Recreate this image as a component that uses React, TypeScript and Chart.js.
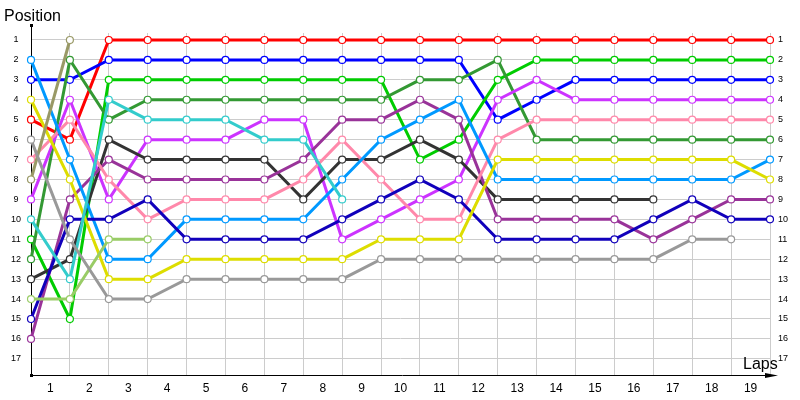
import { useEffect, useRef } from 'react'
import { Chart, registerables } from 'chart.js'

Chart.register(...registerables)

// lap index 0 = start grid, 19 = last lap
const LAPS = [0, 1, 2, 3, 4, 5, 6, 7, 8, 9, 10, 11, 12, 13, 14, 15, 16, 17, 18, 19]
const LAP_LABELS = ['1', '2', '3', '4', '5', '6', '7', '8', '9', '10', '11', '12', '13', '14', '15', '16', '17', '18', '19', '']
const POSITIONS = [1, 2, 3, 4, 5, 6, 7, 8, 9, 10, 11, 12, 13, 14, 15, 16, 17]

const red = [5, 6, 1, 1, 1, 1, 1, 1, 1, 1, 1, 1, 1, 1, 1, 1, 1, 1, 1, 1]
const blue = [3, 3, 2, 2, 2, 2, 2, 2, 2, 2, 2, 2, 5, 4, 3, 3, 3, 3, 3, 3]
const green = [11, 15, 3, 3, 3, 3, 3, 3, 3, 3, 7, 6, 3, 2, 2, 2, 2, 2, 2, 2]
const darkGreen = [12, 2, 5, 4, 4, 4, 4, 4, 4, 4, 3, 3, 2, 6, 6, 6, 6, 6, 6, 6]
const teal = [10, 13, 4, 5, 5, 5, 6, 6, 9, null, null, null, null, null, null, null, null, null, null, null]
const violet = [9, 4, 9, 6, 6, 6, 5, 5, 11, 10, 9, 8, 4, 3, 4, 4, 4, 4, 4, 4]
const black = [13, 12, 6, 7, 7, 7, 7, 9, 7, 7, 6, 7, 9, 9, 9, 9, 9, null, null, null]
const purple = [16, 9, 7, 8, 8, 8, 8, 7, 5, 5, 4, 5, 10, 10, 10, 10, 11, 10, 9, 9]
const pink = [7, 5, 8, 10, 9, 9, 9, 8, 6, 8, 10, 10, 6, 5, 5, 5, 5, 5, 5, 5]
const skyBlue = [2, 7, 12, 12, 10, 10, 10, 10, 8, 6, 5, 4, 8, 8, 8, 8, 8, 8, 8, 7]
const navy = [15, 10, 10, 9, 11, 11, 11, 11, 10, 9, 8, 9, 11, 11, 11, 11, 10, 9, 10, 10]
const yellow = [4, 8, 13, 13, 12, 12, 12, 12, 12, 11, 11, 11, 7, 7, 7, 7, 7, 7, 7, 8]
const gray = [6, 11, 14, 14, 13, 13, 13, 13, 13, 12, 12, 12, 12, 12, 12, 12, 12, 11, 11, null]
const olive = [8, 1, null, null, null, null, null, null, null, null, null, null, null, null, null, null, null, null, null, null]
const lime = [14, 14, 11, 11, null, null, null, null, null, null, null, null, null, null, null, null, null, null, null, null]

const SERIES = [
  { values: gray, color: '#999999' },
  { values: lime, color: '#99cc66' },
  { values: olive, color: '#999966' },
  { values: teal, color: '#33cccc' },
  { values: yellow, color: '#dddd00' },
  { values: navy, color: '#1100bb' },
  { values: skyBlue, color: '#0099ff' },
  { values: pink, color: '#ff88aa' },
  { values: purple, color: '#993399' },
  { values: black, color: '#333333' },
  { values: violet, color: '#cc33ff' },
  { values: darkGreen, color: '#339933' },
  { values: green, color: '#00cc00' },
  { values: blue, color: '#0000ff' },
  { values: red, color: '#ff0000' },
]

const FONT = '"Liberation Sans", Arial, sans-serif'

const decor = {
  id: 'decor',
  beforeDatasetsDraw(chart: Chart) {
    const { ctx, chartArea: a } = chart
    ctx.save()
    ctx.strokeStyle = '#000'
    ctx.fillStyle = '#000'
    ctx.lineWidth = 1
    ctx.beginPath()
    ctx.moveTo(a.left + 0.5, 25)
    ctx.lineTo(a.left + 0.5, a.bottom)
    ctx.moveTo(a.left, a.bottom + 0.5)
    ctx.lineTo(a.right + 4, a.bottom + 0.5)
    ctx.stroke()
    // arrow head
    ctx.beginPath()
    ctx.moveTo(a.right - 5, a.bottom - 2)
    ctx.lineTo(a.right + 8, a.bottom + 0.5)
    ctx.lineTo(a.right - 5, a.bottom + 3)
    ctx.closePath()
    ctx.fill()
    ctx.fillRect(a.left - 1, 24, 3, 3)
    ctx.fillRect(a.left - 1, a.bottom - 1, 3, 3)
    ctx.restore()
  },
  afterDraw(chart: Chart) {
    const { ctx, chartArea: a } = chart
    ctx.save()
    ctx.fillStyle = '#000'
    ctx.font = `16px ${FONT}`
    ctx.textBaseline = 'alphabetic'
    ctx.textAlign = 'left'
    ctx.fillText('Position', 4, 21)
    ctx.fillText('Laps', a.right - 27, a.bottom - 6)
    ctx.restore()
  },
}

export default function App() {
  const canvasRef = useRef<HTMLCanvasElement>(null)

  useEffect(() => {
    if (!canvasRef.current) return
    const chart = new Chart(canvasRef.current, {
      type: 'line',
      data: {
        datasets: SERIES.map((s) => ({
          data: s.values.map((v, i) => ({ x: LAPS[i], y: v })),
          borderColor: s.color,
          backgroundColor: '#ffffff',
          borderWidth: 3,
          pointRadius: 3.5,
          pointBorderWidth: 1.2,
          pointBorderColor: s.color,
          pointBackgroundColor: '#ffffff',
          tension: 0,
          spanGaps: false,
          clip: false as any,
        })),
      },
      options: {
        responsive: false,
        animation: false,
        events: [],
        layout: { padding: { top: 33, left: 0, right: 0, bottom: 0 } },
        plugins: { legend: { display: false }, tooltip: { enabled: false } },
        scales: {
          x: {
            type: 'linear',
            min: 0,
            max: 19,
            afterBuildTicks: (scale) => {
              scale.ticks = LAPS.map((v) => ({ value: v }))
            },
            afterFit: (scale) => {
              scale.height = 25
            },
            border: { display: false },
            grid: { color: '#cccccc', drawTicks: false, lineWidth: 1 },
            ticks: {
              callback: (_v, i) => LAP_LABELS[i],
              labelOffset: 19.45,
              padding: 6,
              maxRotation: 0,
              autoSkip: false,
              color: '#000',
              font: { family: FONT, size: 12 },
            },
          },
          y: {
            type: 'linear',
            position: 'left',
            reverse: true,
            min: 0.65,
            max: 17.81,
            afterBuildTicks: (scale) => {
              scale.ticks = POSITIONS.map((v) => ({ value: v }))
            },
            afterFit: (scale) => {
              scale.width = 31
            },
            border: { display: false },
            grid: { color: '#cccccc', drawTicks: false, lineWidth: 1 },
            ticks: {
              crossAlign: 'center',
              padding: 10,
              color: '#000',
              font: { family: FONT, size: 9 },
            },
          },
          y2: {
            type: 'linear',
            position: 'right',
            reverse: true,
            min: 0.65,
            max: 17.81,
            afterBuildTicks: (scale) => {
              scale.ticks = POSITIONS.map((v) => ({ value: v }))
            },
            afterFit: (scale) => {
              scale.width = 30
            },
            border: { display: false },
            grid: { display: false, drawTicks: false },
            ticks: {
              padding: 8,
              color: '#000',
              font: { family: FONT, size: 9 },
            },
          },
        },
      },
      plugins: [decor],
    })
    return () => chart.destroy()
  }, [])

  return (
    <div style={{ position: 'fixed', left: 0, top: 0, width: 800, height: 400, background: '#fff' }}>
      <canvas ref={canvasRef} width={800} height={400} />
    </div>
  )
}
